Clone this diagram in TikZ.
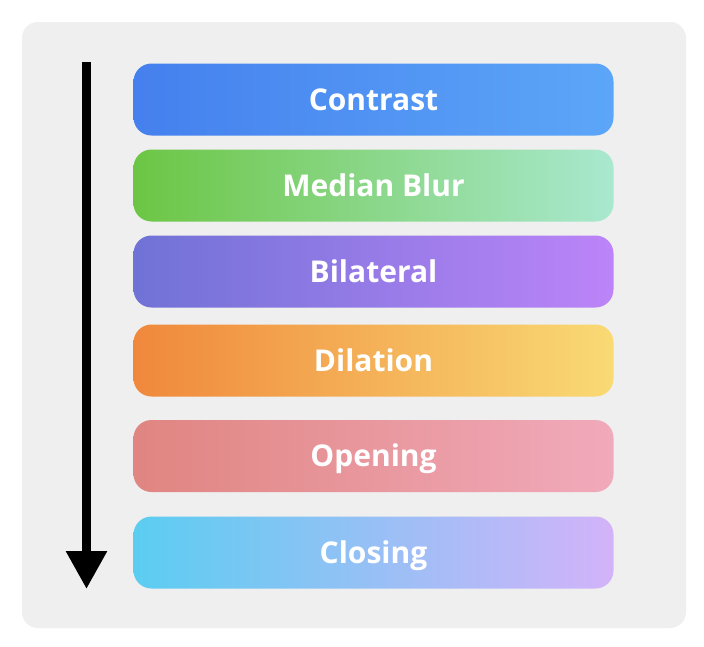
\documentclass[tikz,border=0pt]{standalone}
\usepackage{fontspec}
\setmainfont{Open Sans}
\usepackage{xcolor}
\usepackage{tikz}
\usetikzlibrary{positioning,calc,arrows.meta}

\definecolor{panelgray}{HTML}{EFEFEF}
\definecolor{contrastL}{HTML}{4580EE}
\definecolor{contrastR}{HTML}{5CA6F8}
\definecolor{medianL}{HTML}{6CC644}
\definecolor{medianR}{HTML}{A9E8CF}
\definecolor{bilatL}{HTML}{7072D6}
\definecolor{bilatR}{HTML}{BC84F8}
\definecolor{dilateL}{HTML}{F0883C}
\definecolor{dilateR}{HTML}{F9DA74}
\definecolor{openL}{HTML}{E08581}
\definecolor{openR}{HTML}{F1AABB}
\definecolor{closeL}{HTML}{5BCDF1}
\definecolor{closeR}{HTML}{D3B3FA}

\tikzset{
    stage/.style={rounded corners=18pt, minimum width=480pt, minimum height=72pt,
        inner sep=0pt, text=white, font=\fontsize{30}{34}\selectfont\bfseries,
        text height=21.5pt, text depth=0pt},
}

\begin{document}
\begin{tikzpicture}[x=1pt, y=-1pt]
    \useasboundingbox (0,0) rectangle (704,646);
    \fill[white] (0,0) rectangle (704,646);
    \fill[panelgray, rounded corners=16pt] (22,22) rectangle (686,628);

    % Filter stages
    \node[stage, left color=contrastL, right color=contrastR] (contrast) at (373.5,99.5) {Contrast};
    \node[stage, left color=medianL, right color=medianR] (median) at (373.5,185.5) {Median Blur};
    \node[stage, left color=bilatL, right color=bilatR] (bilateral) at (373.5,271.5) {Bilateral};
    \node[stage, left color=dilateL, right color=dilateR] (dilation) at (373.5,360.5) {Dilation};
    \node[stage, left color=openL, right color=openR] (opening) at (373.5,456) {Opening};
    \node[stage, left color=closeL, right color=closeR] (closing) at (373.5,552.5) {Closing};

    % Order arrow
    \coordinate (flowstart) at (86.5,62);
    \coordinate (flowend) at (86.5,589);
    \draw[line width=9pt, -{Triangle[width=39pt, length=38pt]}] (flowstart) -- (flowend);
\end{tikzpicture}
\end{document}
